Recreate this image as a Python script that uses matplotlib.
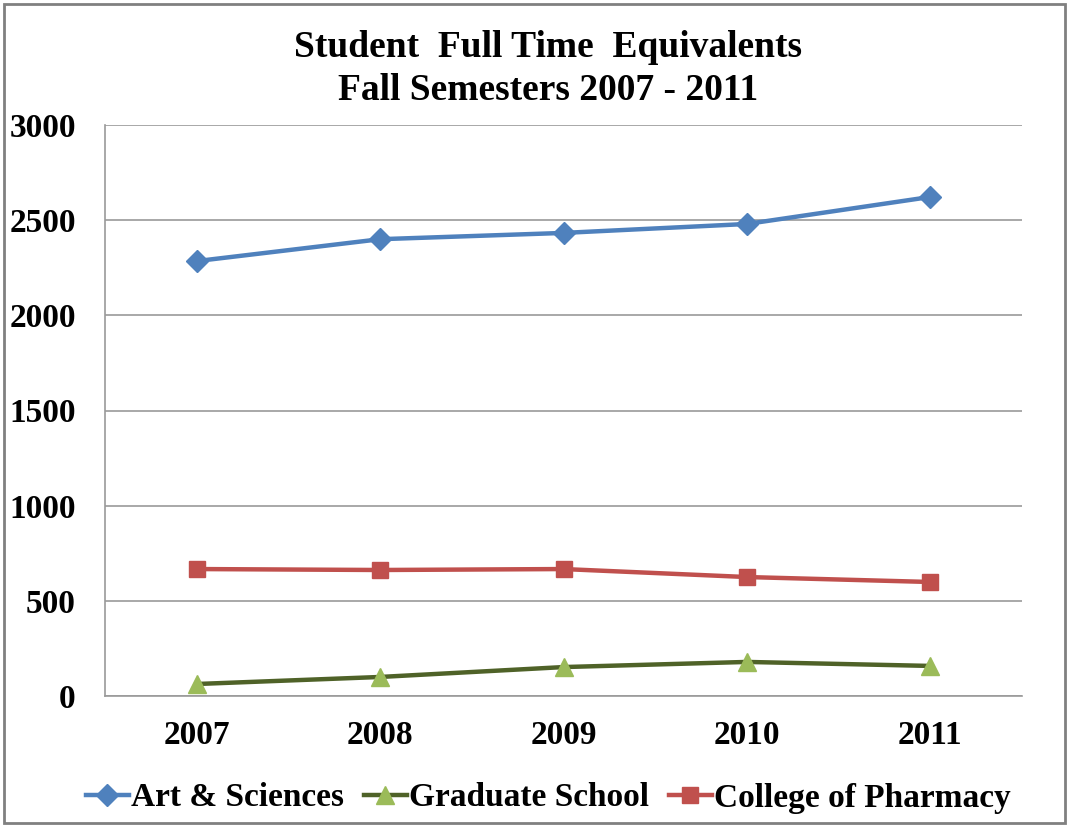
import matplotlib.pyplot as plt
import numpy as np

# data
years = ['2007', '2008', '2009', '2010', '2011']
arts_sciences = [2285, 2400, 2433, 2480, 2622]
graduate_school = [63, 100, 152, 179, 158]
pharmacy = [667, 662, 667, 625, 599]

plt.rcParams['font.family'] = ['Liberation Serif', 'DejaVu Serif']
plt.rcParams['font.weight'] = 'bold'

fig = plt.figure(figsize=(10.7, 8.27), dpi=100)
ax = fig.add_axes([105/1070, 1 - 696/827, (1022 - 105)/1070, (696 - 125)/827])

# outer border of the picture
fig.patches.append(plt.Rectangle((4/1070, 4/827), 1 - 9/1070, 1 - 8/827,
                                 transform=fig.transFigure, fill=False,
                                 edgecolor='#808080', linewidth=2))

x = np.arange(len(years))
ax.plot(x, arts_sciences, color='#4F81BD', linewidth=3.2, marker='D',
        markersize=11, markerfacecolor='#4F81BD', markeredgecolor='#4F81BD',
        label='Art & Sciences', zorder=3)
ax.plot(x, graduate_school, color='#4F6228', linewidth=3.2, marker='^',
        markersize=13, markerfacecolor='#9BBB59', markeredgecolor='#9BBB59',
        label='Graduate School', zorder=3)
ax.plot(x, pharmacy, color='#C0504D', linewidth=3.2, marker='s',
        markersize=12, markerfacecolor='#C0504D', markeredgecolor='#C0504D',
        label='College of Pharmacy', zorder=3)

ax.set_xlim(-0.5, len(years) - 0.5)
ax.set_ylim(0, 3000)
ax.set_yticks(np.arange(0, 3001, 500))
ax.set_xticks(x)
ax.set_xticklabels(years)
ax.grid(axis='y', color='#9a9a9a', linewidth=1.2)
ax.set_axisbelow(True)
for s in ['top', 'right']:
    ax.spines[s].set_visible(False)
ax.spines['left'].set_color('#9a9a9a')
ax.spines['bottom'].set_color('#9a9a9a')
ax.spines['left'].set_linewidth(1.2)
ax.spines['bottom'].set_linewidth(1.2)
ax.tick_params(axis='both', length=0, labelsize=24)
ax.tick_params(axis='y', pad=21)
ax.tick_params(axis='x', pad=17)

fig.text(548/1070, 1 - 69/827, 'Student  Full Time  Equivalents\nFall Semesters 2007 - 2011',
         ha='center', va='center', fontsize=27, fontweight='bold', linespacing=1.3)

fig.legend(loc='center', bbox_to_anchor=(548/1070, 1 - 798/827), ncol=3,
           frameon=False, fontsize=24, handlelength=1.3, handletextpad=0.05,
           columnspacing=0.6)

fig.savefig('out.png', dpi=100)
